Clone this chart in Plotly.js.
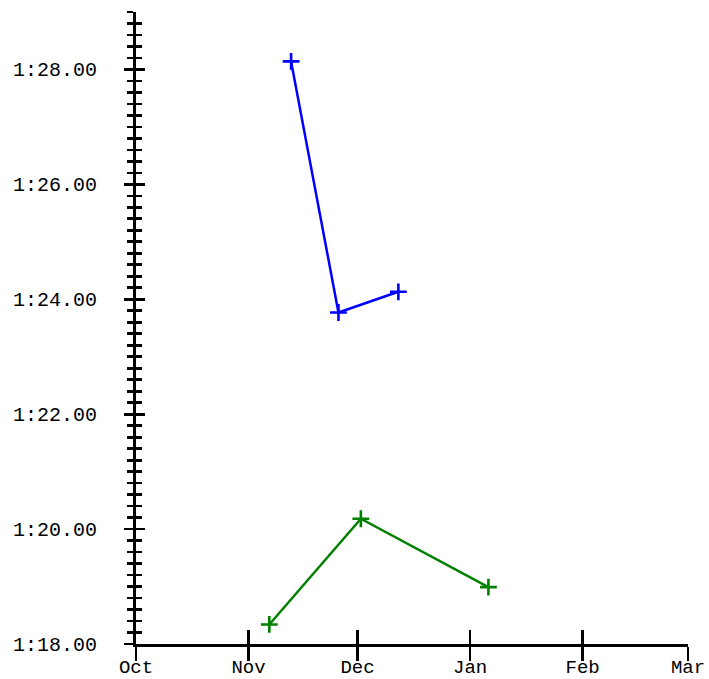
<!DOCTYPE html>
<html>
<head>
<meta charset="utf-8">
<script src="https://cdn.plot.ly/plotly-3.0.1.min.js"></script>
<style>html,body{margin:0;padding:0;background:#fff;}#chart{width:709px;height:679px;}</style>
</head>
<body>
<div id="chart"></div>
<script>
// Series A (blue): dates and lap times in seconds
const blueDates = ['2007-11-12 17:00', '2007-11-25 18:00', '2007-12-12 06:00'];
const blueTimes = [88.14, 83.77, 84.13];
// Series B (green)
const greenDates = ['2007-11-06 17:00', '2007-12-01 22:00', '2008-01-06 01:00'];
const greenTimes = [78.34, 80.18, 78.99];

// Axis ticks
const monthTickVals = ['2007-10-01', '2007-11-01', '2007-12-01', '2008-01-01', '2008-02-01', '2008-03-01'];
const monthTickText = ['Oct', 'Nov', 'Dec', 'Jan', 'Feb', 'Mar'];
const timeTickVals = [78, 80, 82, 84, 86, 88];
const timeTickText = ['1:18.00', '1:20.00', '1:22.00', '1:24.00', '1:26.00', '1:28.00'];

const xRange = ['2007-10-01', '2008-03-01'];
const yRange = [78, 89];
const font = {family: 'Liberation Mono, DejaVu Sans Mono, monospace', size: 20, color: '#000'};
const xFont = {family: 'Liberation Mono, DejaVu Sans Mono, monospace', size: 19, color: '#000'};

const traces = [
  {x: blueDates, y: blueTimes, type: 'scatter', mode: 'lines+markers',
   line: {color: '#0000ff', width: 2.5},
   marker: {symbol: 'cross-thin', size: 12, color: '#0000ff', line: {color: '#0000ff', width: 2.6}},
   showlegend: false, hoverinfo: 'skip'},
  {x: greenDates, y: greenTimes, type: 'scatter', mode: 'lines+markers',
   line: {color: '#008000', width: 2.5},
   marker: {symbol: 'cross-thin', size: 12, color: '#008000', line: {color: '#008000', width: 2.6}},
   showlegend: false, hoverinfo: 'skip'},
  {x: greenDates, y: greenTimes, xaxis: 'x2', yaxis: 'y2', type: 'scatter', mode: 'none',
   showlegend: false, hoverinfo: 'skip'}
];

const layout = {
  width: 709, height: 679,
  margin: {l: 136, r: 21, t: 12, b: 35, pad: 0},
  paper_bgcolor: '#fff', plot_bgcolor: '#fff',
  font: font,
  showlegend: false,
  xaxis: {
    type: 'date', range: xRange, tickvals: monthTickVals,
    showgrid: false, zeroline: false, showline: true, linecolor: '#000', linewidth: 3,
    ticks: 'outside', ticklen: 14, tickwidth: 2.7, tickcolor: '#000',
    showticklabels: false, fixedrange: true
  },
  yaxis: {
    range: yRange, tickvals: timeTickVals, ticktext: timeTickText,
    showgrid: false, zeroline: false, showline: true, linecolor: '#000', linewidth: 3,
    ticks: 'outside', ticklen: 9, tickwidth: 2.7, tickcolor: '#000',
    minor: {dtick: 0.2, tick0: 78, ticks: 'outside', ticklen: 6, tickwidth: 2.7, tickcolor: '#000', showgrid: false},
    tickfont: font, ticklabelstandoff: 23, fixedrange: true
  },
  xaxis2: {
    type: 'date', range: xRange, tickvals: monthTickVals, ticktext: monthTickText,
    overlaying: 'x', anchor: 'y2', side: 'bottom',
    showgrid: false, zeroline: false, showline: false, showticklabels: true,
    tickfont: xFont, ticklabelstandoff: 9,
    ticks: 'inside', ticklen: 14, tickwidth: 2.7, tickcolor: '#000', fixedrange: true
  },
  yaxis2: {
    range: yRange, tickvals: timeTickVals, overlaying: 'y', anchor: 'x2', side: 'left',
    showgrid: false, zeroline: false, showline: false, showticklabels: false,
    ticks: 'inside', ticklen: 9, tickwidth: 2.7, tickcolor: '#000',
    minor: {dtick: 0.2, tick0: 78, ticks: 'inside', ticklen: 6, tickwidth: 2.7, tickcolor: '#000', showgrid: false},
    fixedrange: true
  }
};

Plotly.newPlot('chart', traces, layout, {displayModeBar: false, staticPlot: true});
</script>
</body>
</html>
